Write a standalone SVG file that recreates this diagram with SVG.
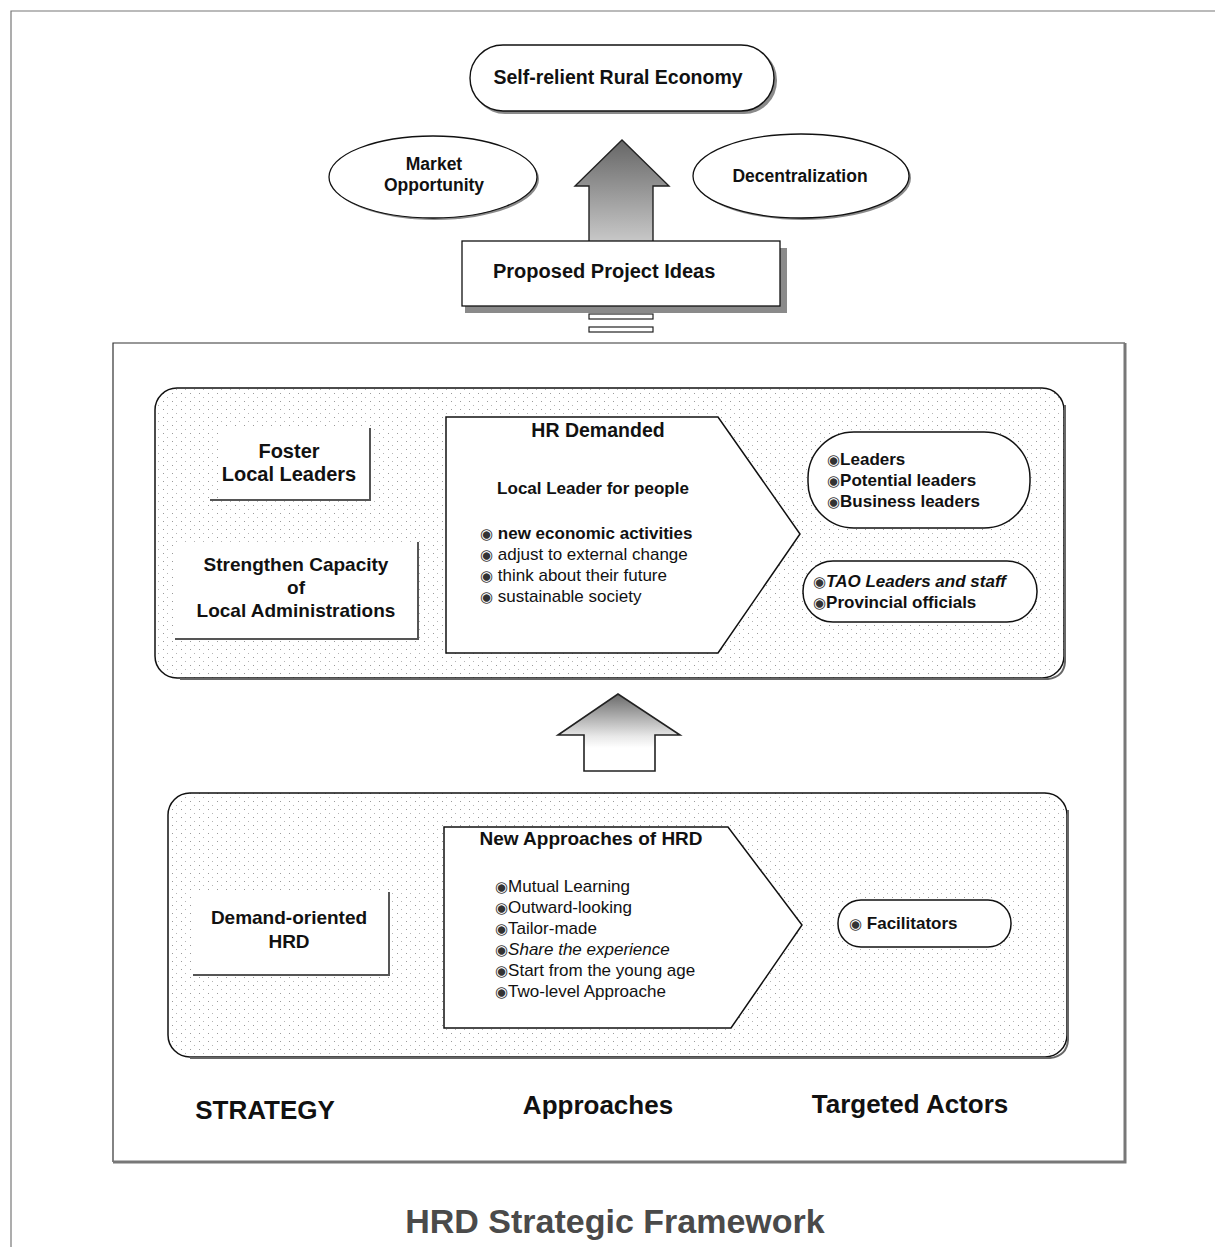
<svg xmlns="http://www.w3.org/2000/svg" width="1215" height="1247" viewBox="0 0 1215 1247">
<style>
text{font-family:"Liberation Sans",Arial,sans-serif;fill:#111}
.b{font-weight:bold}
.i{font-style:italic}
.bul{font-family:"DejaVu Sans",sans-serif;font-size:15px;fill:#333}
.sh{fill:#8a8a8a}
.c{text-anchor:middle}
</style>
<defs>
<pattern id="dots" width="9" height="8" patternUnits="userSpaceOnUse">
<rect x="1" y="1" width="1" height="1" fill="#9a9a9a"/>
<rect x="5" y="5" width="1" height="1" fill="#b4b4b4"/>
</pattern>
<linearGradient id="g1" x1="0" y1="0" x2="0" y2="1">
<stop offset="0" stop-color="#666"/>
<stop offset="1" stop-color="#d0d0d0"/>
</linearGradient>
<linearGradient id="g2" x1="0" y1="0" x2="0" y2="1">
<stop offset="0" stop-color="#6a6a6a"/>
<stop offset="0.55" stop-color="#e8e8e8"/>
<stop offset="0.7" stop-color="#ffffff"/>
</linearGradient>
</defs>
<rect width="1215" height="1247" fill="#fff"/>
<g id="page-border">
<path d="M11 1247 V11 H1215" fill="none" stroke="#777" stroke-width="1.2"/>
</g>

<g id="connectors">
<g id="arrow-top">
<rect x="589" y="314" width="64" height="5" fill="#fff" stroke="#222" stroke-width="1.2"/>
<rect x="589" y="327" width="64" height="5" fill="#fff" stroke="#222" stroke-width="1.2"/>
<path d="M589 250 V186 H575 L622 140 L669 186 H653 V250 Z" fill="url(#g1)" stroke="#222" stroke-width="1.4"/>
</g>
<g id="arrow-mid">
<path d="M584 771 V735 H558 L618 694 L680 735 H655 V771 Z" fill="url(#g2)" stroke="#222" stroke-width="1.6"/>
</g>
</g>

<g id="n-self-reliant">
<rect x="472" y="47" width="305" height="67" rx="33" class="sh"/>
<rect x="470" y="45" width="304" height="66" rx="33" fill="#fff" stroke="#111" stroke-width="1.4"/>
<text x="618" y="84" class="b c" font-size="19.5">Self-relient Rural Economy</text>
</g>
<g id="n-market">
<ellipse cx="435" cy="179" rx="104" ry="41" class="sh"/>
<ellipse cx="433" cy="177" rx="104" ry="41" fill="#fff" stroke="#111" stroke-width="1.3"/>
<text x="434" y="170" class="b c" font-size="17.5">Market</text>
<text x="434" y="191" class="b c" font-size="17.5">Opportunity</text>
</g>
<g id="n-decentralization">
<ellipse cx="803" cy="178" rx="108" ry="42" class="sh"/>
<ellipse cx="801" cy="176" rx="108" ry="42" fill="#fff" stroke="#111" stroke-width="1.3"/>
<text x="800" y="182" class="b c" font-size="17.5">Decentralization</text>
</g>
<g id="n-proposed">
<rect x="780" y="248" width="7" height="65" class="sh"/>
<rect x="465" y="306" width="322" height="7" class="sh"/>
<rect x="462" y="241" width="318" height="65" fill="#fff" stroke="#111" stroke-width="1.3"/>
<text x="493" y="278" class="b" font-size="20">Proposed Project Ideas</text>
</g>

<g id="n-frame">
<path d="M113 1162 V343 H1125" fill="none" stroke="#333" stroke-width="1.2"/>
<path d="M1125 343 V1162 H113" fill="none" stroke="#777" stroke-width="3"/>
</g>

<g id="n-top-panel">
<rect x="155" y="388" width="909" height="290" rx="22" fill="#fff"/>
<rect x="155" y="388" width="909" height="290" rx="22" fill="url(#dots)" stroke="#111" stroke-width="1.5"/>
<path d="M1065 405 V662 Q1064 677 1048 679 H180" fill="none" stroke="#666" stroke-width="2"/>
</g>
<g id="n-foster">
<rect x="218" y="428" width="152" height="72" fill="#fff"/>
<path d="M370 428 V500 H210" fill="none" stroke="#555" stroke-width="2"/>
<text x="289" y="458" class="b c" font-size="20">Foster</text>
<text x="289" y="481" class="b c" font-size="20">Local Leaders</text>
</g>
<g id="n-strengthen">
<rect x="175" y="542" width="243" height="97" fill="#fff"/>
<path d="M418 542 V639 H175" fill="none" stroke="#555" stroke-width="2"/>
<text x="296" y="571" class="b c" font-size="19">Strengthen Capacity</text>
<text x="296" y="594" class="b c" font-size="19">of</text>
<text x="296" y="617" class="b c" font-size="19">Local Administrations</text>
</g>
<g id="n-hr-demanded">
<path d="M446 417 H718 L800 534 L718 653 H446 Z" fill="#fff" stroke="#111" stroke-width="1.5"/>
<text x="598" y="437" class="b c" font-size="19.5">HR Demanded</text>
<text x="593" y="494" class="b c" font-size="17">Local Leader for people</text>
<text x="480" y="539" font-size="17" class="b"><tspan class="bul">◉</tspan> new economic activities</text>
<text x="480" y="560" font-size="17"><tspan class="bul">◉</tspan> adjust to external change</text>
<text x="480" y="581" font-size="17"><tspan class="bul">◉</tspan> think about their future</text>
<text x="480" y="602" font-size="17"><tspan class="bul">◉</tspan> sustainable society</text>
</g>
<g id="n-leaders">
<rect x="808" y="432" width="222" height="96" rx="46" fill="#fff" stroke="#111" stroke-width="1.5"/>
<text x="827" y="465" class="b" font-size="17"><tspan class="bul">◉</tspan>Leaders</text>
<text x="827" y="486" class="b" font-size="17"><tspan class="bul">◉</tspan>Potential leaders</text>
<text x="827" y="507" class="b" font-size="17"><tspan class="bul">◉</tspan>Business leaders</text>
</g>
<g id="n-tao">
<rect x="803" y="561" width="234" height="61" rx="30" fill="#fff" stroke="#111" stroke-width="1.5"/>
<text x="813" y="587" class="b" font-size="17"><tspan class="bul">◉</tspan><tspan class="i">TAO Leaders and staff</tspan></text>
<text x="813" y="608" class="b" font-size="17"><tspan class="bul">◉</tspan>Provincial officials</text>
</g>

<g id="n-bottom-panel">
<rect x="168" y="793" width="899" height="264" rx="22" fill="#fff"/>
<rect x="168" y="793" width="899" height="264" rx="22" fill="url(#dots)" stroke="#111" stroke-width="1.5"/>
<path d="M1068 810 V1040 Q1067 1056 1050 1058 H190" fill="none" stroke="#666" stroke-width="2"/>
</g>
<g id="n-demand-oriented">
<rect x="193" y="892" width="196" height="83" fill="#fff"/>
<path d="M389 892 V975 H193" fill="none" stroke="#555" stroke-width="2"/>
<text x="289" y="924" class="b c" font-size="19">Demand-oriented</text>
<text x="289" y="948" class="b c" font-size="19">HRD</text>
</g>
<g id="n-new-approaches">
<path d="M444 827 H728 L802 925 L731 1028 H444 Z" fill="#fff" stroke="#111" stroke-width="1.5"/>
<text x="591" y="845" class="b c" font-size="19">New Approaches of HRD</text>
<text x="495" y="892" font-size="17"><tspan class="bul">◉</tspan>Mutual Learning</text>
<text x="495" y="913" font-size="17"><tspan class="bul">◉</tspan>Outward-looking</text>
<text x="495" y="934" font-size="17"><tspan class="bul">◉</tspan>Tailor-made</text>
<text x="495" y="955" font-size="17"><tspan class="bul">◉</tspan><tspan class="i">Share the  experience</tspan></text>
<text x="495" y="976" font-size="17"><tspan class="bul">◉</tspan>Start from the young age</text>
<text x="495" y="997" font-size="17"><tspan class="bul">◉</tspan>Two-level Approache</text>
</g>
<g id="n-facilitators">
<rect x="838" y="900" width="173" height="47" rx="23" fill="#fff" stroke="#111" stroke-width="1.5"/>
<text x="849" y="929" class="b" font-size="17"><tspan class="bul">◉</tspan> Facilitators</text>
</g>

<g id="labels">
<text x="265" y="1119" class="b c" font-size="26" fill="#222">STRATEGY</text>
<text x="598" y="1114" class="b c" font-size="26">Approaches</text>
<text x="910" y="1113" class="b c" font-size="26">Targeted Actors</text>
<text x="615" y="1233" class="b c" font-size="34" style="fill:#4a4a4a">HRD Strategic Framework</text>
</g>
</svg>
